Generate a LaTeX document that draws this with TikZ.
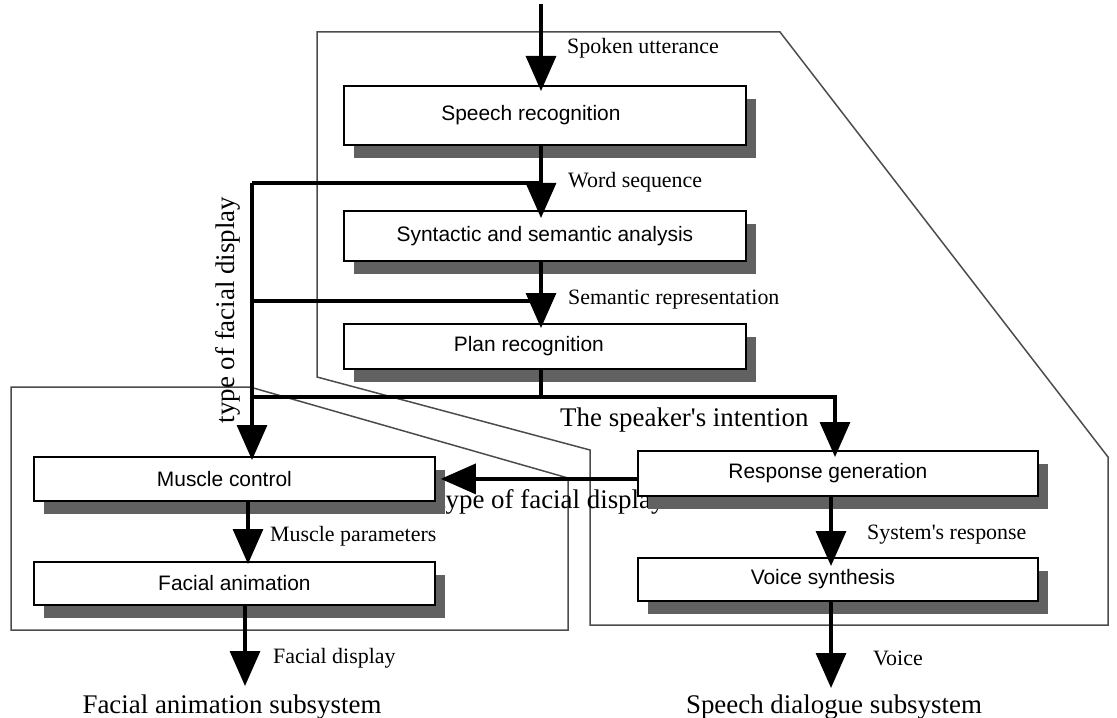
\documentclass[tikz,border=0pt]{standalone}
\usepackage{fontspec}
\setmainfont{Liberation Serif}
\newfontfamily\boxfont{Liberation Sans}
\usetikzlibrary{arrows.meta,shadows,calc}
\begin{document}
\begin{tikzpicture}[x=1bp,y=-1bp,
  box/.style={draw=black, line width=1.8bp, fill=white, inner sep=0pt, anchor=north west,
    font=\boxfont\fontsize{21}{24}\selectfont,
    drop shadow={shadow xshift=10bp, shadow yshift=-13bp, fill=black!62, opacity=1}},
  flow/.style={line width=3.2bp},
  arr/.style={flow, -{Triangle[length=35bp,width=30bp]}},
  lab/.style={font=\fontsize{22}{24}\selectfont, anchor=west, inner sep=0pt},
  big/.style={font=\fontsize{27}{29}\selectfont, inner sep=0pt},
  sub/.style={draw=black!70, line width=1.5bp, line join=miter},
]
\useasboundingbox (0,0) rectangle (1117,718);

% subsystem outlines
\draw[sub] (317,32) -- (780,32) -- (1108,457) -- (1108,625) -- (590,625) -- (590,450) -- (317,377) -- cycle;
\draw[sub] (11,387) -- (250,387) -- (568,478) -- (568,630) -- (11,630) -- cycle;

% label partly hidden by the box shadows
\node[big, anchor=west] (l9) at (438,502) {type of facial display};

% boxes
\node[box, minimum width=402bp, minimum height=59bp] (sr) at (343,85) {Speech recognition\kern28bp};
\node[box, minimum width=402bp, minimum height=50bp] (syn) at (343,210) {Syntactic and semantic analysis};
\node[box, minimum width=402bp, minimum height=45bp] (plan) at (343,323) {Plan recognition\kern32bp};
\node[box, minimum width=400bp, minimum height=45bp] (rg) at (637,450) {Response generation\kern20bp};
\node[box, minimum width=400bp, minimum height=43bp] (vs) at (637,557) {Voice synthesis\kern30bp};
\node[box, minimum width=401bp, minimum height=44bp] (mc) at (33,456) {Muscle control\kern20bp};
\node[box, minimum width=401bp, minimum height=43bp] (fa) at (33,561) {Facial animation};

% coordinates
\coordinate (in) at (541,4);
\coordinate (j1) at (252,183);
\coordinate (j2) at (252,301);
\coordinate (j3) at (252,397);
\coordinate (k3) at (835,397);
\coordinate (fout) at (245,686);
\coordinate (vout) at (831,688);

% main flow
\draw[arr] (in) -- ([yshift=-6bp]in |- sr.north);
\draw[arr] (in |- sr.south) -- ([yshift=-8bp]in |- syn.north);
\draw[arr] (in |- syn.south) -- ([yshift=-5bp]in |- plan.north);
\draw[flow] (in |- plan.south) -- (in |- j3);
\draw[flow] (in |- j1) -- (j1);
\draw[flow] (in |- j2) -- (j2);
\draw[arr] (j1) -- ([yshift=-4bp]j1 |- mc.north);
\draw[arr] (j3) -- (k3) -- ([yshift=-7bp]k3 |- rg.north);
\draw[arr] (rg.west |- mc.east) -- ([xshift=5bp]mc.east);
\draw[arr] (mc.south -| 248,0) -- ([yshift=-3bp]fa.north -| 248,0);
\draw[arr] (fa.south -| fout) -- (fout);
\draw[arr] (rg.south -| vout) -- ([yshift=-9bp]vs.north -| vout);
\draw[arr] (vs.south -| vout) -- (vout);

% labels
\node[lab] (l1) at (567,48) {Spoken utterance};
\node[lab] (l2) at (568,182) {Word sequence};
\node[lab] (l3) at (568,300) {Semantic representation};
\node[lab] (l4) at (270,536) {Muscle parameters};
\node[lab] (l5) at (867,535) {System\textquotesingle s response};
\node[lab] (l6) at (273,658) {Facial display};
\node[lab] (l7) at (873,658) {Voice};
\node[big, anchor=west] (l8) at (560,420) {The speaker\textquotesingle s intention};
\node[big, rotate=90] (l10) at (228,310) {type of facial display};
\node[big] (t1) at (232,707) {Facial animation subsystem};
\node[big] (t2) at (834,707) {Speech dialogue subsystem};
\end{tikzpicture}
\end{document}
